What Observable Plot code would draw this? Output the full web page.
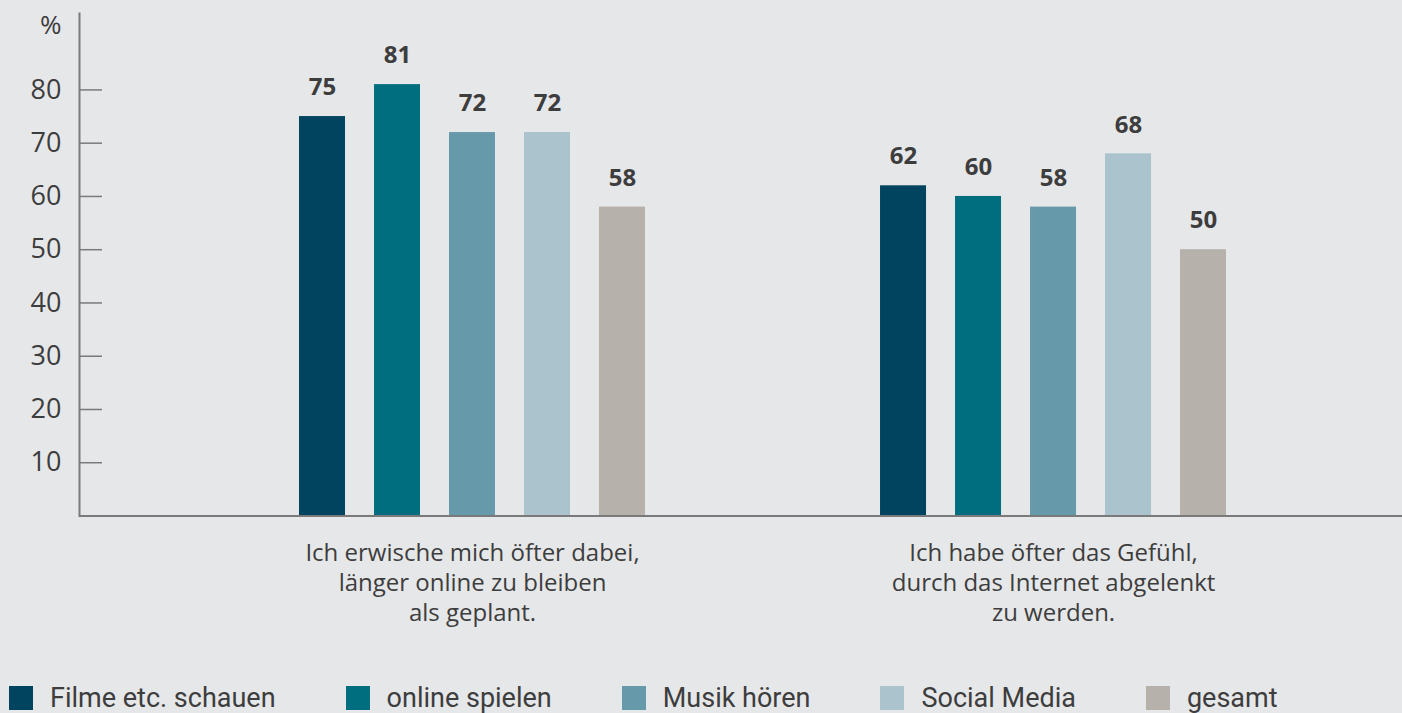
<!DOCTYPE html>
<html><head><meta charset="utf-8">
<script src="https://cdn.jsdelivr.net/npm/d3@7"></script>
<script src="https://cdn.jsdelivr.net/npm/@observablehq/plot@0.6"></script>
<style>
html,body{margin:0;padding:0;background:#e6e7e9;}
body{width:1402px;height:713px;overflow:hidden;font-family:Roboto,"Open Sans",sans-serif;color:#3d3d3d;}
#chart svg{display:block;}
#legend{display:flex;align-items:center;gap:70px;padding:11px 0 0 9px;height:30px;font-size:27px;}
.item{display:flex;align-items:center;line-height:28px;white-space:nowrap;}
.sw{width:24px;height:24px;margin-right:17px;display:inline-block;}
</style></head><body>
<div id="chart"></div>
<div id="legend"></div>
<script>
const groups = ["Ich erwische mich öfter dabei,\nlänger online zu bleiben\nals geplant.", "Ich habe öfter das Gefühl,\ndurch das Internet abgelenkt\nzu werden."];
const series = ["Filme etc. schauen", "online spielen", "Musik hören", "Social Media", "gesamt"];
const valuesGroup1 = [75, 81, 72, 72, 58];
const valuesGroup2 = [62, 60, 58, 68, 50];
const colors = ["#00445f", "#006e7f", "#669aab", "#aac3cc", "#b6b1aa"];
const yTicks = [10, 20, 30, 40, 50, 60, 70, 80];
const yUnit = "%";

const data = [valuesGroup1, valuesGroup2].flatMap((vals, gi) =>
  vals.map((v, si) => ({group: groups[gi], series: series[si], value: v})));

const axisColor = "#7a7a7a";
const chart = Plot.plot({
  width: 1402, height: 672,
  marginLeft: 79, marginRight: 0, marginTop: 13, marginBottom: 156.5,
  style: {background: "transparent", color: "#3d3d3d", fontFamily: "'Open Sans', Roboto, sans-serif"},
  fx: {domain: groups, align: 0, paddingInner: 0, paddingOuter: 0.1385, round: false, axis: null},
  x: {domain: series, paddingInner: 0.3867, paddingOuter: 1.567, align: 0.936, round: false, axis: null},
  y: {domain: [0, 94.35], axis: null},
  color: {domain: series, range: colors},
  marks: [
    Plot.barY(data, {fx: "group", x: "series", y: "value", fill: "series"}),
    Plot.text(data, {fx: "group", x: "series", y: "value", text: d => String(d.value), dy: -29, fontWeight: "bold", fontSize: 24, fill: "#3d3d3d"}),
    Plot.text(groups, {fx: d => d, x: () => series[2], frameAnchor: "bottom", lineAnchor: "top", dy: 24, fontSize: 24, lineHeight: 1.25, text: d => d, fill: "#3d3d3d"}),
    Plot.axisY({ticks: yTicks, label: null, tickSize: -23, tickPadding: 41, fontSize: 27, stroke: axisColor, fill: "#3d3d3d", strokeWidth: 1.5}),
    Plot.ruleY([0], {stroke: axisColor, strokeWidth: 2, insetRight: -161}),
    Plot.frame({anchor: "left", facetAnchor: "left", stroke: axisColor, strokeWidth: 2}),
    Plot.text([yUnit], {frameAnchor: "top-left", facetAnchor: "left", textAnchor: "end", dx: -18, dy: 2, fontSize: 26, fill: "#3d3d3d"})
  ]
});
document.getElementById("chart").append(chart);

const legend = document.getElementById("legend");
series.forEach((s, i) => {
  const it = document.createElement("div");
  it.className = "item";
  const sw = document.createElement("span");
  sw.className = "sw";
  sw.style.background = colors[i];
  it.append(sw, document.createTextNode(s));
  legend.append(it);
});
</script>
</body></html>
